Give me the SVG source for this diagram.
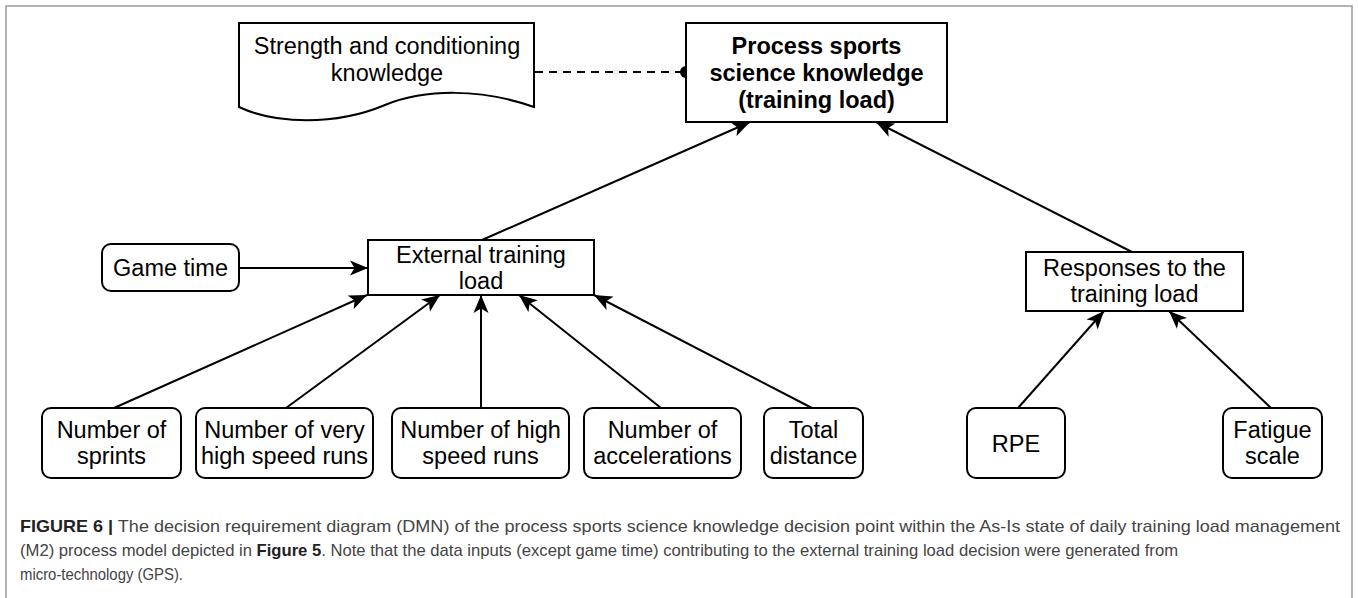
<svg xmlns="http://www.w3.org/2000/svg" width="1358" height="598" viewBox="0 0 1358 598">
<defs>
<style>
.frame{fill:#fff;stroke:#9a9a9a;stroke-width:1.5}
.box{fill:#fff;stroke:#000;stroke-width:2}
.t{font-family:"Liberation Sans",Arial,sans-serif;font-size:23.5px;fill:#000;text-anchor:middle}
.b{font-weight:bold}
.edge{fill:none;stroke:#000;stroke-width:2}
.dash{fill:none;stroke:#000;stroke-width:2;stroke-dasharray:8 6}
.cap{font-family:"Liberation Sans",Arial,sans-serif;font-size:17px;fill:#444}
.capb{font-weight:bold;fill:#222}
</style>
<marker id="arr" markerUnits="userSpaceOnUse" markerWidth="20" markerHeight="16" refX="18" refY="8" orient="auto" viewBox="0 0 20 16">
<path d="M0,0.5 L18,8 L0,15.5 L4.5,8 Z" fill="#000"/>
</marker>
<marker id="dot" markerUnits="userSpaceOnUse" markerWidth="14" markerHeight="14" refX="7" refY="7" orient="auto" viewBox="0 0 14 14">
<circle cx="7" cy="7" r="6" fill="#000"/>
</marker>
</defs>
<rect class="frame" x="6" y="6" width="1346" height="610"/>

<g id="connectors">
<line class="dash" x1="535" y1="72" x2="686" y2="72" marker-end="url(#dot)"/>
<line class="edge" x1="482" y1="240" x2="750" y2="122" marker-end="url(#arr)"/>
<line class="edge" x1="1132" y1="252" x2="876" y2="122" marker-end="url(#arr)"/>
<line class="edge" x1="239" y1="268" x2="368" y2="268" marker-end="url(#arr)"/>
<line class="edge" x1="114" y1="408" x2="367" y2="295" marker-end="url(#arr)"/>
<line class="edge" x1="286" y1="408" x2="440" y2="295" marker-end="url(#arr)"/>
<line class="edge" x1="481" y1="408" x2="481" y2="295" marker-end="url(#arr)"/>
<line class="edge" x1="661" y1="408" x2="519" y2="295" marker-end="url(#arr)"/>
<line class="edge" x1="812" y1="408" x2="594" y2="295" marker-end="url(#arr)"/>
<line class="edge" x1="1018" y1="408" x2="1104" y2="311" marker-end="url(#arr)"/>
<line class="edge" x1="1271" y1="408" x2="1169" y2="311" marker-end="url(#arr)"/>
</g>

<g id="knowledge">
<path class="box" d="M239,23 H534 V107 C480,88 425,89 385,105 C335,126 275,124 239,107 Z"/>
<text class="t" x="387" y="54">Strength and conditioning</text>
<text class="t" x="387" y="81">knowledge</text>
</g>

<g id="process">
<rect class="box" x="686" y="23" width="261" height="99"/>
<text class="t b" x="816.5" y="54">Process sports</text>
<text class="t b" x="816.5" y="81">science knowledge</text>
<text class="t b" x="816.5" y="108">(training load)</text>
</g>

<g id="external">
<rect class="box" x="368" y="240" width="226" height="55"/>
<text class="t" x="481" y="263">External training</text>
<text class="t" x="481" y="289">load</text>
</g>

<g id="responses">
<rect class="box" x="1026" y="252" width="217" height="59"/>
<text class="t" x="1134.5" y="276">Responses to the</text>
<text class="t" x="1134.5" y="302">training load</text>
</g>

<g id="gametime">
<rect class="box" x="102" y="244" width="137" height="47" rx="9"/>
<text class="t" x="170.5" y="276">Game time</text>
</g>

<g id="sprints">
<rect class="box" x="42" y="408" width="139" height="70" rx="9"/>
<text class="t" x="111.5" y="438">Number of</text>
<text class="t" x="111.5" y="464">sprints</text>
</g>

<g id="veryhigh">
<rect class="box" x="196" y="408" width="177" height="70" rx="9"/>
<text class="t" x="284.5" y="438">Number of very</text>
<text class="t" x="284.5" y="464">high speed runs</text>
</g>

<g id="high">
<rect class="box" x="392" y="408" width="177" height="70" rx="9"/>
<text class="t" x="480.5" y="438">Number of high</text>
<text class="t" x="480.5" y="464">speed runs</text>
</g>

<g id="accelerations">
<rect class="box" x="584" y="408" width="157" height="70" rx="9"/>
<text class="t" x="662.5" y="438">Number of</text>
<text class="t" x="662.5" y="464">accelerations</text>
</g>

<g id="totaldistance">
<rect class="box" x="764" y="408" width="99" height="70" rx="9"/>
<text class="t" x="813.5" y="438">Total</text>
<text class="t" x="813.5" y="464">distance</text>
</g>

<g id="rpe">
<rect class="box" x="967" y="408" width="98" height="70" rx="9"/>
<text class="t" x="1016" y="452">RPE</text>
</g>

<g id="fatigue">
<rect class="box" x="1223" y="408" width="99" height="70" rx="9"/>
<text class="t" x="1272.5" y="438">Fatigue</text>
<text class="t" x="1272.5" y="464">scale</text>
</g>

<g id="caption">
<text class="cap" x="20" y="532" textLength="1320" lengthAdjust="spacingAndGlyphs"><tspan class="capb">FIGURE 6 |</tspan> The decision requirement diagram (DMN) of the process sports science knowledge decision point within the As-Is state of daily training load management</text>
<text class="cap" x="20" y="556" textLength="1158" lengthAdjust="spacingAndGlyphs">(M2) process model depicted in <tspan class="capb">Figure 5</tspan>. Note that the data inputs (except game time) contributing to the external training load decision were generated from</text>
<text class="cap" x="20" y="580" textLength="163" lengthAdjust="spacingAndGlyphs">micro-technology (GPS).</text>
</g>
</svg>
